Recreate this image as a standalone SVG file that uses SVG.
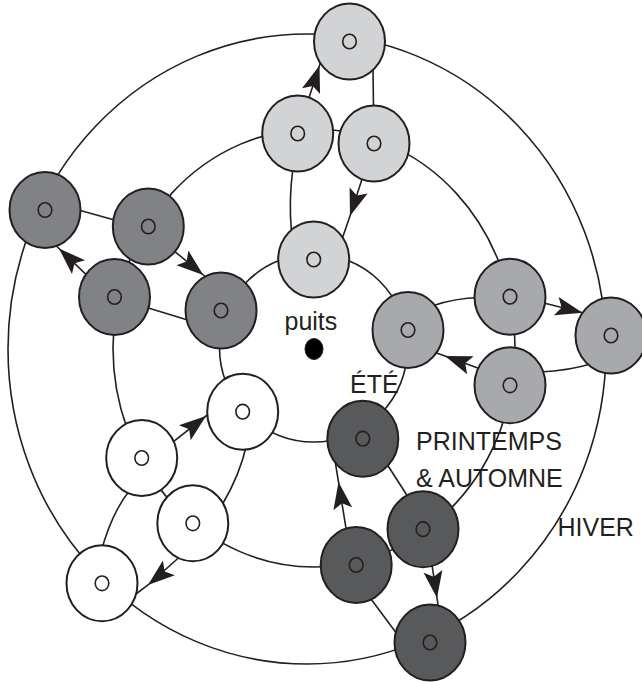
<svg xmlns="http://www.w3.org/2000/svg" width="642" height="682" viewBox="0 0 642 682">
<defs>
<style>
.ring{fill:none;stroke:#231f20;stroke-width:1.6}
.link{fill:none;stroke:#231f20;stroke-width:1.6}
.arrow{fill:none;stroke:#231f20;stroke-width:1.6;marker-mid:url(#ah)}
.o{stroke:#231f20;stroke-width:2}
.hole{fill:none;stroke:#231f20;stroke-width:1.6}
.c1{fill:#d1d3d4}.c2{fill:#808285}.c3{fill:#a7a9ac}.c4{fill:#ffffff}.c5{fill:#58595b}
text{font-family:"Liberation Sans",Arial,Helvetica,sans-serif;font-size:25px;fill:#231f20}
</style>
<marker id="ah" markerUnits="userSpaceOnUse" orient="auto" overflow="visible" markerWidth="1" markerHeight="1" refX="0" refY="0">
<path d="M0,0 L-27,-9.5 L-21.5,0 L-27,9.5 Z" fill="#231f20"/>
</marker>
</defs>
<rect width="642" height="682" fill="#ffffff"/>
<g id="rings">
<ellipse class="ring" cx="307" cy="349" rx="299" ry="315"/>
<ellipse class="ring" cx="314" cy="348" rx="201" ry="219"/>
<circle class="ring" cx="313.5" cy="348" r="94"/>
</g>
<g id="connectors">
<path class="link" d="M373,68 L373.5,110"/>
<path class="link" d="M293,168 Q288.5,200 291.5,232"/>
<path class="link" d="M75,209 L118,221"/>
<path class="link" d="M145,307 L191,321"/>
<path class="link" d="M432,306 Q455,298 480,297.5"/>
<path class="link" d="M540,372 Q568,371 594,363"/>
<path class="link" d="M247,443 Q240,475 222,505"/>
<path class="link" d="M130,490 Q112,512 101,552"/>
<path class="link" d="M383,458 L410,500"/>
<path class="link" d="M368,595 Q383,615 400,638"/>
<path class="arrow" d="M305,110 L319.5,65.5 L322,58"/>
<path class="arrow" d="M365,170 L350,216 L340,245"/>
<path class="arrow" d="M91.4,279.6 L59,248.5 L53.2,243"/>
<path class="arrow" d="M172.5,249.6 L203.3,275 L209.5,280"/>
<path class="arrow" d="M538,301.5 L582.5,312.7 L590,314.6"/>
<path class="arrow" d="M487.3,371.4 L445,356 L433.7,351.9"/>
<path class="arrow" d="M170.6,443.8 L206,416 L212.3,411"/>
<path class="arrow" d="M184,553 L148,585 L132,597"/>
<path class="arrow" d="M346.5,531.4 L338.5,482 L335,460.3"/>
<path class="arrow" d="M431,558.4 L437,598 L438.5,607.9"/>
</g>
<g id="L_outer"><ellipse class="o c1" cx="349.5" cy="41.5" rx="35.5" ry="38"/><ellipse class="hole" cx="349.5" cy="41.5" rx="6.8" ry="7.3"/></g>
<g id="L_mid1"><ellipse class="o c1" cx="297.7" cy="133.5" rx="35.5" ry="38"/><ellipse class="hole" cx="297.7" cy="133.5" rx="6.8" ry="7.3"/></g>
<g id="L_mid2"><ellipse class="o c1" cx="374" cy="143.5" rx="35.5" ry="38"/><ellipse class="hole" cx="374" cy="143.5" rx="6.8" ry="7.3"/></g>
<g id="L_inner"><ellipse class="o c1" cx="313.7" cy="259.5" rx="35.5" ry="38"/><ellipse class="hole" cx="313.7" cy="259.5" rx="6.8" ry="7.3"/></g>
<g id="G_outer"><ellipse class="o c2" cx="45" cy="210" rx="35.5" ry="38"/><ellipse class="hole" cx="45" cy="210" rx="6.8" ry="7.3"/></g>
<g id="G_mid1"><ellipse class="o c2" cx="148.3" cy="226.5" rx="35.5" ry="38"/><ellipse class="hole" cx="148.3" cy="226.5" rx="6.8" ry="7.3"/></g>
<g id="G_mid2"><ellipse class="o c2" cx="114.5" cy="297" rx="35.5" ry="38"/><ellipse class="hole" cx="114.5" cy="297" rx="6.8" ry="7.3"/></g>
<g id="G_inner"><ellipse class="o c2" cx="221" cy="310.5" rx="35.5" ry="38"/><ellipse class="hole" cx="221" cy="310.5" rx="6.8" ry="7.3"/></g>
<g id="M_inner"><ellipse class="o c3" cx="408" cy="330" rx="35.5" ry="38"/><ellipse class="hole" cx="408" cy="330" rx="6.8" ry="7.3"/></g>
<g id="M_mid1"><ellipse class="o c3" cx="510" cy="296.7" rx="35.5" ry="38"/><ellipse class="hole" cx="510" cy="296.7" rx="6.8" ry="7.3"/></g>
<g id="M_mid2"><ellipse class="o c3" cx="510" cy="385.3" rx="35.5" ry="38"/><ellipse class="hole" cx="510" cy="385.3" rx="6.8" ry="7.3"/></g>
<g id="M_outer"><ellipse class="o c3" cx="611" cy="335.5" rx="35.5" ry="38"/><ellipse class="hole" cx="611" cy="335.5" rx="6.8" ry="7.3"/></g>
<g id="W_inner"><ellipse class="o c4" cx="242.7" cy="411.7" rx="35.5" ry="38"/><ellipse class="hole" cx="242.7" cy="411.7" rx="6.8" ry="7.3"/></g>
<g id="W_mid1"><ellipse class="o c4" cx="141.7" cy="458" rx="35.5" ry="38"/><ellipse class="hole" cx="141.7" cy="458" rx="6.8" ry="7.3"/></g>
<g id="W_mid2"><ellipse class="o c4" cx="192.8" cy="523.3" rx="35.5" ry="38"/><ellipse class="hole" cx="192.8" cy="523.3" rx="6.8" ry="7.3"/></g>
<g id="W_outer"><ellipse class="o c4" cx="102" cy="583.3" rx="35.5" ry="38"/><ellipse class="hole" cx="102" cy="583.3" rx="6.8" ry="7.3"/></g>
<g id="D_inner"><ellipse class="o c5" cx="362.8" cy="438.7" rx="35.5" ry="38"/><ellipse class="hole" cx="362.8" cy="438.7" rx="6.8" ry="7.3"/></g>
<g id="D_mid1"><ellipse class="o c5" cx="423" cy="529.2" rx="35.5" ry="38"/><ellipse class="hole" cx="423" cy="529.2" rx="6.8" ry="7.3"/></g>
<g id="D_mid2"><ellipse class="o c5" cx="356.2" cy="565" rx="35.5" ry="38"/><ellipse class="hole" cx="356.2" cy="565" rx="6.8" ry="7.3"/></g>
<g id="D_outer"><ellipse class="o c5" cx="430" cy="642.5" rx="35.5" ry="38"/><ellipse class="hole" cx="430" cy="642.5" rx="6.8" ry="7.3"/></g>
<g id="puits"><ellipse cx="314" cy="349" rx="9" ry="10.5" fill="#000000" stroke="#231f20" stroke-width="1"/><text x="284.5" y="330">puits</text></g>
<g id="labels">
<text x="350" y="393">ÉTÉ</text>
<text x="416" y="450">PRINTEMPS</text>
<text x="416" y="487">&amp; AUTOMNE</text>
<text x="557.5" y="536">HIVER</text>
</g>
</svg>
